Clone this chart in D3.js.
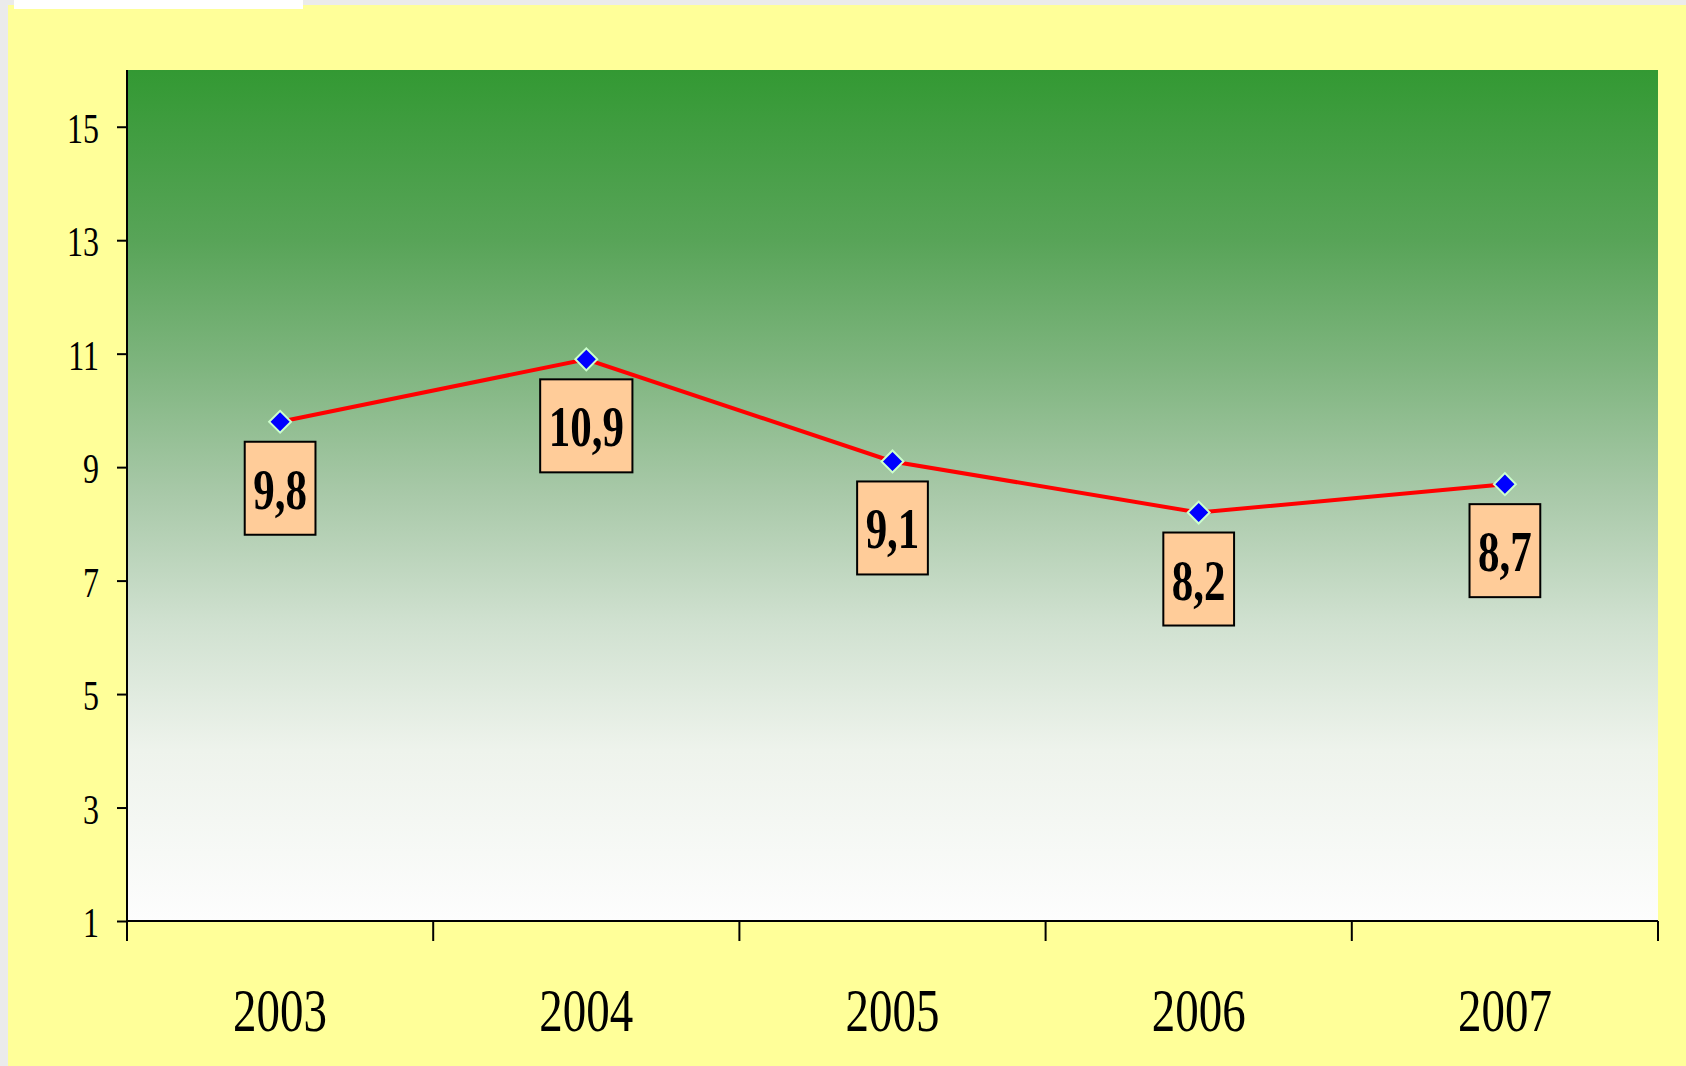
<!DOCTYPE html>
<html>
<head>
<meta charset="utf-8">
<script src="https://cdn.jsdelivr.net/npm/d3@7"></script>
<style>
  body { margin: 0; background: #ebebeb; }
  svg { display: block; }
  text { font-family: "Liberation Serif", "Times New Roman", serif; fill: #000; }
</style>
</head>
<body>
<div id="chart"></div>
<script>
var years = ["2003", "2004", "2005", "2006", "2007"];
var values = [9.8, 10.9, 9.1, 8.2, 8.7];
var labels = ["9,8", "10,9", "9,1", "8,2", "8,7"];
var yTicks = [1, 3, 5, 7, 9, 11, 13, 15];

var W = 1686, H = 1066;
var margin = { top: 70, right: 28, bottom: 145, left: 127 };
var stretch = 1.32; // text in the picture is tall and narrow

var svg = d3.select("#chart").append("svg")
    .attr("width", W)
    .attr("height", H);

// page background pieces
svg.append("rect").attr("x", 8).attr("y", 5).attr("width", W - 8).attr("height", H - 5).attr("fill", "#ffff99");
svg.append("rect").attr("x", 14).attr("y", 0).attr("width", 289).attr("height", 9).attr("fill", "#ffffff");

var defs = svg.append("defs");
var grad = defs.append("linearGradient")
    .attr("id", "bg-grad")
    .attr("x1", 0).attr("y1", 0).attr("x2", 0).attr("y2", 1);
[[0, "#339933"], [0.2, "#58a458"], [0.35, "#7fb57f"], [0.5, "#a9c9a9"],
 [0.65, "#d0e1d0"], [0.8, "#eef3ec"], [1, "#fdfdfd"]].forEach(function(s) {
    grad.append("stop").attr("offset", s[0]).attr("stop-color", s[1]);
});

var innerW = W - margin.left - margin.right;
var innerH = H - margin.top - margin.bottom;

var g = svg.append("g")
    .attr("transform", "translate(" + margin.left + "," + margin.top + ")");

var x = d3.scaleBand().domain(years).range([0, innerW]);
var y = d3.scaleLinear().domain([1, 16]).range([innerH, 0]);

g.append("rect")
    .attr("x", 0).attr("y", 0)
    .attr("width", innerW).attr("height", innerH)
    .attr("fill", "url(#bg-grad)");

// y axis
var yAxis = g.append("g")
    .call(d3.axisLeft(y).tickValues(yTicks).tickSize(10).tickFormat(""));
yAxis.select(".domain").remove();
yAxis.selectAll(".tick line").attr("stroke", "#000").attr("stroke-width", 2);
g.append("line")
    .attr("x1", 0).attr("x2", 0)
    .attr("y1", 0).attr("y2", innerH + 20)
    .attr("stroke", "#000").attr("stroke-width", 2);

g.selectAll(".ylab")
    .data(yTicks)
    .enter().append("text")
    .attr("class", "ylab")
    .attr("text-anchor", "end")
    .attr("font-size", 32)
    .attr("transform", function(d) { return "translate(-28," + (y(d) + 16) + ") scale(1," + stretch + ")"; })
    .text(function(d) { return d; });

// x axis
var edges = years.map(function(d) { return x(d); }).concat([innerW]);
g.append("line")
    .attr("x1", 0).attr("x2", innerW)
    .attr("y1", innerH).attr("y2", innerH)
    .attr("stroke", "#000").attr("stroke-width", 2);
g.selectAll(".xtick")
    .data(edges)
    .enter().append("line")
    .attr("class", "xtick")
    .attr("x1", function(d) { return d; }).attr("x2", function(d) { return d; })
    .attr("y1", innerH).attr("y2", innerH + 20)
    .attr("stroke", "#000").attr("stroke-width", 2);

g.selectAll(".xlab")
    .data(years)
    .enter().append("text")
    .attr("class", "xlab")
    .attr("text-anchor", "middle")
    .attr("font-size", 47)
    .attr("transform", function(d) { return "translate(" + (x(d) + x.bandwidth() / 2) + "," + (innerH + 110) + ") scale(1," + stretch + ")"; })
    .text(function(d) { return d; });

// line
var cx = function(d, i) { return x(years[i]) + x.bandwidth() / 2; };
var line = d3.line()
    .x(cx)
    .y(function(d) { return y(d); });

g.append("path")
    .datum(values)
    .attr("fill", "none")
    .attr("stroke", "#ff0000")
    .attr("stroke-width", 4)
    .attr("d", line);

// data labels
var lab = g.selectAll(".dlab")
    .data(values)
    .enter().append("g")
    .attr("class", "dlab")
    .attr("transform", function(d, i) { return "translate(" + cx(d, i) + "," + (y(d) + 20) + ")"; });

var rects = lab.append("rect")
    .attr("fill", "#ffcc99")
    .attr("stroke", "#000")
    .attr("stroke-width", 2);

var txt = lab.append("text")
    .attr("text-anchor", "middle")
    .attr("font-size", 43)
    .attr("font-weight", "bold")
    .attr("transform", "translate(0,67) scale(1," + stretch + ")")
    .text(function(d, i) { return labels[i]; });

txt.each(function(d, i) {
    var w = this.getComputedTextLength() + 17;
    d3.select(rects.nodes()[i])
        .attr("x", -w / 2).attr("y", 0)
        .attr("width", w).attr("height", 93);
});

// markers
g.selectAll(".mark")
    .data(values)
    .enter().append("path")
    .attr("class", "mark")
    .attr("d", d3.symbol().type(d3.symbolSquare).size(240))
    .attr("transform", function(d, i) { return "translate(" + cx(d, i) + "," + y(d) + ") rotate(45)"; })
    .attr("fill", "#0000ff")
    .attr("stroke", "#ccffcc")
    .attr("stroke-width", 2);
</script>
</body>
</html>
